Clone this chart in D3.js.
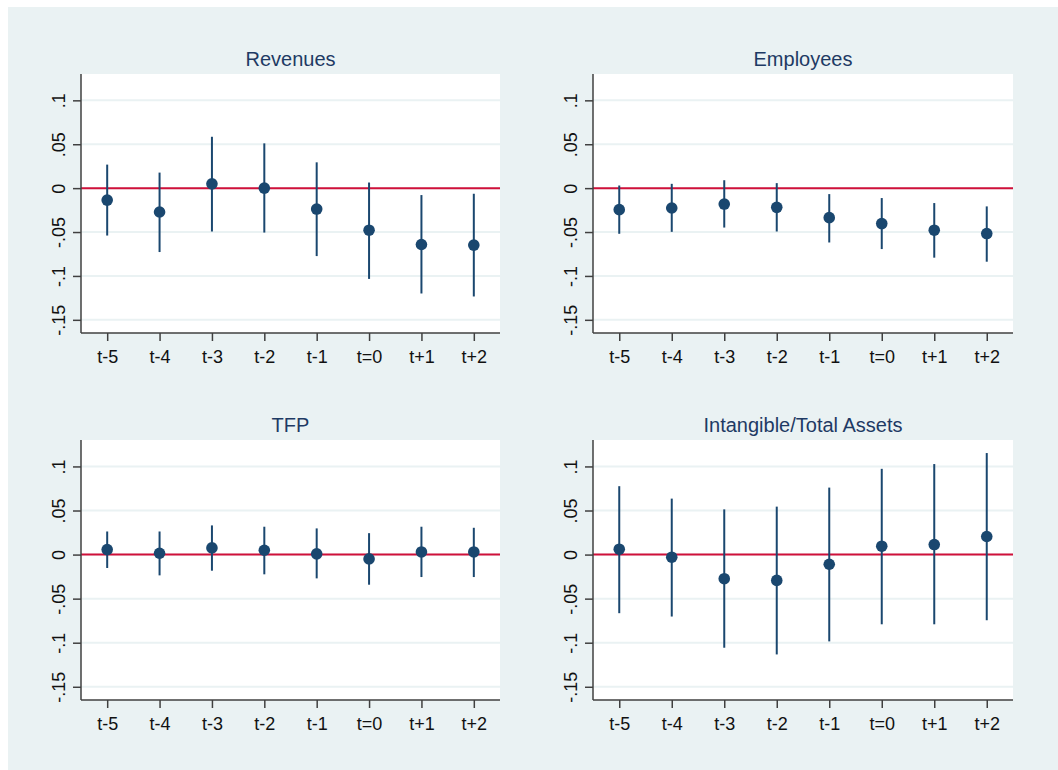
<!DOCTYPE html>
<html>
<head>
<meta charset="utf-8">
<script src="https://cdn.jsdelivr.net/npm/d3@7"></script>
<style>
  html, body { margin: 0; padding: 0; background: #ffffff; }
  svg { display: block; font-family: "Liberation Sans", Arial, sans-serif; }
</style>
</head>
<body>
<svg id="chart" width="1058" height="770"></svg>
<script>
// Event-time periods on the x axis
const periods = ["t-5", "t-4", "t-3", "t-2", "t-1", "t=0", "t+1", "t+2"];

// Y axis ticks and their labels
const yTicks = [0.1, 0.05, 0, -0.05, -0.1, -0.15];
const yTickLabels = [".1", ".05", "0", "-.05", "-.1", "-.15"];

// Revenues: point estimates and 95% confidence bounds
const revenuesCoef = [-0.0136, -0.0272, 0.0049, 0.0000, -0.0238, -0.0479, -0.0642, -0.0649];
const revenuesLo   = [-0.0540, -0.0728, -0.0494, -0.0506, -0.0774, -0.1034, -0.1200, -0.1234];
const revenuesHi   = [0.0268, 0.0177, 0.0585, 0.0510, 0.0294, 0.0064, -0.0079, -0.0064];

// Employees
const employeesCoef = [-0.0245, -0.0226, -0.0181, -0.0219, -0.0336, -0.0404, -0.0479, -0.0517];
const employeesLo   = [-0.0520, -0.0498, -0.0449, -0.0494, -0.0619, -0.0694, -0.0792, -0.0838];
const employeesHi   = [0.0030, 0.0049, 0.0090, 0.0057, -0.0068, -0.0113, -0.0170, -0.0208];

// TFP
const tfpCoef = [0.0057, 0.0015, 0.0076, 0.0049, 0.0008, -0.0049, 0.0030, 0.0030];
const tfpLo   = [-0.0152, -0.0236, -0.0183, -0.0224, -0.0270, -0.0342, -0.0255, -0.0255];
const tfpHi   = [0.0262, 0.0262, 0.0331, 0.0316, 0.0297, 0.0243, 0.0316, 0.0304];

// Intangible / Total Assets
const intangCoef = [0.0061, -0.0030, -0.0274, -0.0293, -0.0110, 0.0095, 0.0114, 0.0205];
const intangLo   = [-0.0665, -0.0703, -0.1057, -0.1133, -0.0985, -0.0791, -0.0791, -0.0745];
const intangHi   = [0.0776, 0.0635, 0.0513, 0.0544, 0.0760, 0.0973, 0.1027, 0.1152];

const panelTitles = ["Revenues", "Employees", "TFP", "Intangible/Total Assets"];
const panelCoefs = [revenuesCoef, employeesCoef, tfpCoef, intangCoef];
const panelLows  = [revenuesLo, employeesLo, tfpLo, intangLo];
const panelHighs = [revenuesHi, employeesHi, tfpHi, intangHi];

// Plot-region placement of the 2x2 grid
const layout = [
  { x0: 81,  x1: 500,  y0: 74,  y1: 333 },
  { x0: 593, x1: 1013, y0: 74,  y1: 333 },
  { x0: 81,  x1: 500,  y0: 440, y1: 700 },
  { x0: 593, x1: 1013, y0: 440, y1: 700 }
];

const colors = {
  outer: "#eaf2f3",
  grid: "#eaf2f3",
  axis: "#404040",
  marker: "#1a476f",
  zero: "#d0103a",
  title: "#1e3a64",
  text: "#111111"
};

const svg = d3.select("#chart");

// Graph region background (white margin at top and left)
svg.append("rect")
  .attr("x", 8).attr("y", 7)
  .attr("width", 1058 - 8).attr("height", 770 - 7)
  .attr("fill", colors.outer);

panelTitles.forEach((title, i) => {
  const L = layout[i];
  const coef = panelCoefs[i], lo = panelLows[i], hi = panelHighs[i];

  const x = d3.scalePoint().domain(periods).range([L.x0, L.x1]).padding(0.5);
  const y = d3.scaleLinear().domain([-0.165, 0.13]).range([L.y1, L.y0]);

  const g = svg.append("g");

  // Plot region
  g.append("rect")
    .attr("x", L.x0).attr("y", L.y0)
    .attr("width", L.x1 - L.x0).attr("height", L.y1 - L.y0)
    .attr("fill", "#ffffff");

  // Horizontal gridlines
  g.append("g").selectAll("line")
    .data(yTicks)
    .join("line")
    .attr("x1", L.x0).attr("x2", L.x1)
    .attr("y1", d => y(d)).attr("y2", d => y(d))
    .attr("stroke", colors.grid)
    .attr("stroke-width", 2);

  // Zero reference line
  g.append("line")
    .attr("x1", L.x0).attr("x2", L.x1)
    .attr("y1", y(0)).attr("y2", y(0))
    .attr("stroke", colors.zero)
    .attr("stroke-width", 2);

  // Confidence intervals
  g.append("g").selectAll("line")
    .data(periods)
    .join("line")
    .attr("x1", d => x(d)).attr("x2", d => x(d))
    .attr("y1", (d, j) => y(lo[j])).attr("y2", (d, j) => y(hi[j]))
    .attr("stroke", colors.marker)
    .attr("stroke-width", 2);

  // Point estimates
  g.append("g").selectAll("circle")
    .data(periods)
    .join("circle")
    .attr("cx", d => x(d))
    .attr("cy", (d, j) => y(coef[j]))
    .attr("r", 5.8)
    .attr("fill", colors.marker);

  // Left axis with rotated labels
  const yAxis = g.append("g")
    .attr("transform", `translate(${L.x0},0)`)
    .call(d3.axisLeft(y)
      .tickValues(yTicks)
      .tickFormat((d, j) => yTickLabels[j])
      .tickSize(8)
      .tickSizeOuter(0));
  yAxis.select(".domain")
    .attr("d", `M0,${L.y0}V${L.y1}`)
    .attr("stroke", colors.axis).attr("stroke-width", 1.5);
  yAxis.selectAll(".tick line").attr("stroke", colors.axis).attr("stroke-width", 1.5);
  yAxis.selectAll(".tick text")
    .attr("x", null).attr("dy", null)
    .attr("transform", "translate(-16,0) rotate(-90)")
    .attr("text-anchor", "middle")
    .attr("fill", colors.text)
    .style("font-size", "18px")
    .style("font-family", "'Liberation Sans', Arial, sans-serif");

  // Bottom axis
  const xAxis = g.append("g")
    .attr("transform", `translate(0,${L.y1})`)
    .call(d3.axisBottom(x).tickSize(8).tickSizeOuter(0));
  xAxis.select(".domain")
    .attr("d", `M${L.x0},0H${L.x1}`)
    .attr("stroke", colors.axis).attr("stroke-width", 1.5);
  xAxis.selectAll(".tick line").attr("stroke", colors.axis).attr("stroke-width", 1.5);
  xAxis.selectAll(".tick text")
    .attr("y", 17)
    .attr("fill", colors.text)
    .style("font-size", "18px")
    .style("font-family", "'Liberation Sans', Arial, sans-serif");

  // Panel title
  g.append("text")
    .attr("x", (L.x0 + L.x1) / 2)
    .attr("y", L.y0 - 8)
    .attr("text-anchor", "middle")
    .attr("fill", colors.title)
    .style("font-size", "20px")
    .text(title);
});
</script>
</body>
</html>
